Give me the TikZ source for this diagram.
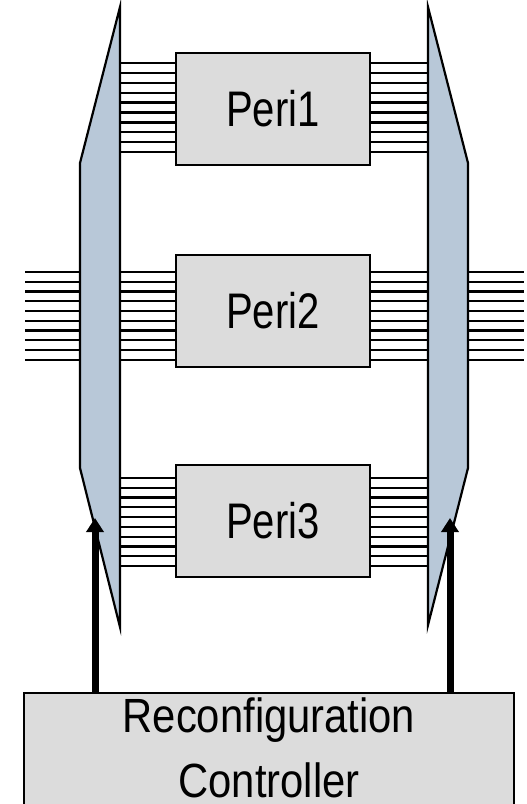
\documentclass[tikz,border=0pt]{standalone}
\usepackage{fontspec}
\setmainfont{Liberation Sans}
\newfontfamily\perifont{Liberation Sans}[FakeStretch=0.8]
\newfontfamily\ctrlfont{Liberation Sans}[FakeStretch=0.87]
\usetikzlibrary{arrows.meta}
\definecolor{muxfill}{HTML}{B8C8D8}
\definecolor{boxfill}{HTML}{DCDCDC}
\begin{document}
\begin{tikzpicture}[x=1pt,y=-1pt,
  peribox/.style={draw, line width=2pt, fill=boxfill, minimum width=194pt,
    minimum height=112pt, inner sep=0pt, font=\perifont\fontsize{50}{60}\selectfont},
  ctrlbox/.style={draw, line width=2pt, fill=boxfill, minimum width=490pt,
    minimum height=150pt, inner sep=0pt, anchor=north},
  ctrltext/.style={anchor=north, align=center, inner sep=0pt,
    font=\ctrlfont\fontsize{48}{65}\selectfont},
  muxfillst/.style={fill=muxfill},
  muxedge/.style={draw, line width=2.2pt, line join=miter},
  bus/.style={line width=2.3pt},
  ctrlarrow/.style={line width=7pt, -{Triangle[width=17pt,length=14pt]}},
]
\clip (0,0) rectangle (527,804);
\useasboundingbox (0,0) rectangle (527,804);

% peripheral boxes
\node[peribox] (p1) at (273,109) {Peri1};
\node[peribox] (p2) at (273,311) {Peri2};
\node[peribox] (p3) at (273,520.5) {Peri3};

% controller
\node[ctrlbox] (ctrl) at (269,692) {};
\node[ctrltext] (ctrltxt) at ([yshift=-6pt]ctrl.north) {Reconfiguration\\Controller};

% mux edge coordinates
\coordinate (mLin) at (120,0);
\coordinate (mLout) at (80,0);
\coordinate (mRin) at (428,0);
\coordinate (mRout) at (468,0);
\coordinate (leftEnd) at (25,0);
\coordinate (rightEnd) at (524,0);

% buses
\foreach \i in {0,...,9}{
  \pgfmathsetmacro{\ya}{63+9.9*\i}
  \draw[bus] (mLin |- 0,\ya) -- (p1.west |- 0,\ya);
  \draw[bus] (p1.east |- 0,\ya) -- (mRin |- 0,\ya);
  \pgfmathsetmacro{\yb}{272+9.75*\i}
  \draw[bus] (leftEnd |- 0,\yb) -- (mLout |- 0,\yb);
  \draw[bus] (mLin |- 0,\yb) -- (p2.west |- 0,\yb);
  \draw[bus] (p2.east |- 0,\yb) -- (mRin |- 0,\yb);
  \draw[bus] (mRout |- 0,\yb) -- (rightEnd |- 0,\yb);
  \pgfmathsetmacro{\yc}{478+9.78*\i}
  \draw[bus] (mLin |- 0,\yc) -- (p3.west |- 0,\yc);
  \draw[bus] (p3.east |- 0,\yc) -- (mRin |- 0,\yc);
}

% multiplexer bodies
\fill[muxfillst] (120,7) -- (120,627) -- (80,468) -- (80,163) -- cycle;
\fill[muxfillst] (428,7) -- (468,163) -- (468,468) -- (428,625) -- cycle;

% control arrows
\coordinate (selL) at (95,518);
\coordinate (selR) at (450,518);
\draw[ctrlarrow] (ctrl.north -| selL) -- (selL);
\draw[ctrlarrow] (ctrl.north -| selR) -- (selR);

% multiplexer outlines
\draw[muxedge] (120,7) -- (120,627) -- (80,468) -- (80,163) -- cycle;
\draw[muxedge] (428,7) -- (468,163) -- (468,468) -- (428,625) -- cycle;
\end{tikzpicture}
\end{document}
